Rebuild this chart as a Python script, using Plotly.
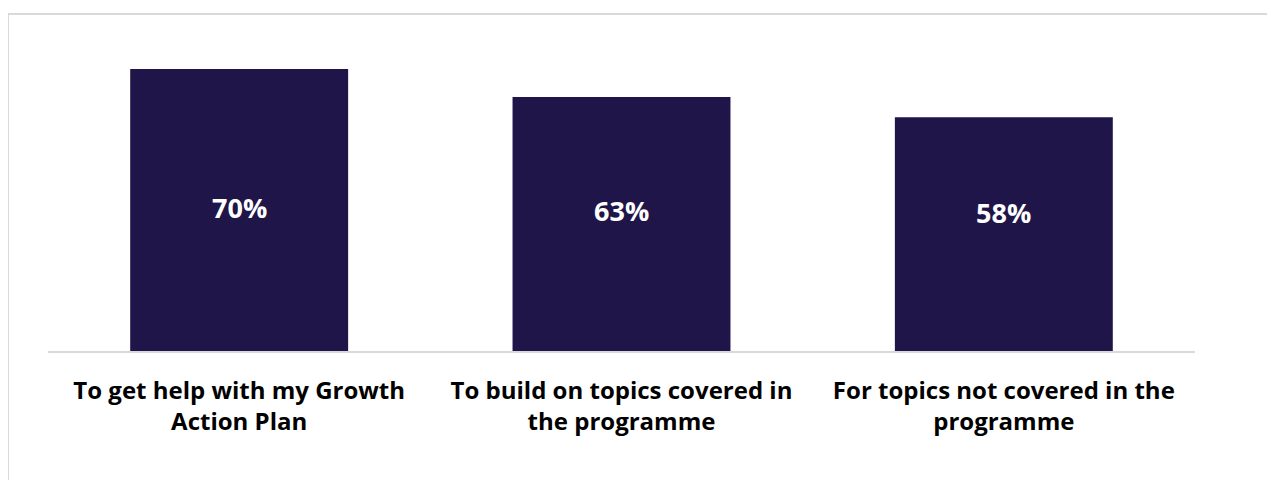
import plotly.graph_objects as go

categories = [
    "To get help with my Growth<br>Action Plan",
    "To build on topics covered in<br>the programme",
    "For topics not covered in the<br>programme",
]
values = [70, 63, 58]
labels = ["70%", "63%", "58%"]
# height (in axis units) at which each value label sits inside its bar
label_heights = [35.5, 34.8, 34.3]

bar_color = "#1f1548"
grid_color = "#d9d9d9"

# the page body adds an 8px offset, so work in shifted pixel coords
OFF = 8
W, H = 1275 - OFF, 480 - OFF

fig = go.Figure()
fig.add_trace(
    go.Bar(
        x=categories,
        y=values,
        marker=dict(color=bar_color, line=dict(width=0)),
        width=0.57,
        showlegend=False,
        hoverinfo="x+y",
    )
)

for cat, lab, h in zip(categories, labels, label_heights):
    fig.add_annotation(
        x=cat, y=h, text=lab, showarrow=False,
        font=dict(family="Open Sans", size=27, color="white", weight="bold"),
    )

# plot area in reference pixels: x 48..1195, y 29..351
L, R, T, B = 48 - OFF, 1195 - OFF, 29 - OFF, 351 - OFF
pw, ph = R - L, B - T

def px_x(x):
    return (x - OFF - L) / pw

def px_y(y):
    return (B - (y - OFF)) / ph

# outer frame, only top and left edges visible
fig.add_shape(type="line", xref="paper", yref="paper",
              x0=px_x(8), x1=px_x(1290), y0=px_y(14), y1=px_y(14),
              line=dict(color=grid_color, width=2))
fig.add_shape(type="line", xref="paper", yref="paper",
              x0=px_x(8), x1=px_x(8), y0=px_y(14), y1=px_y(495),
              line=dict(color=grid_color, width=2))

fig.update_layout(
    width=W,
    height=H,
    margin=dict(l=L, r=W - R, t=T, b=H - B),
    plot_bgcolor="white",
    paper_bgcolor="white",
    bargap=0.43,
    xaxis=dict(
        showgrid=False,
        showline=True,
        linecolor=grid_color,
        linewidth=2,
        ticks="",
        tickfont=dict(family="Open Sans", size=24, color="black", weight="bold"),
        ticklabelstandoff=17,
    ),
    yaxis=dict(
        range=[0, ph / 4.03],
        showgrid=False,
        zeroline=False,
        showticklabels=False,
        showline=False,
    ),
)

fig.write_html("out.html")
